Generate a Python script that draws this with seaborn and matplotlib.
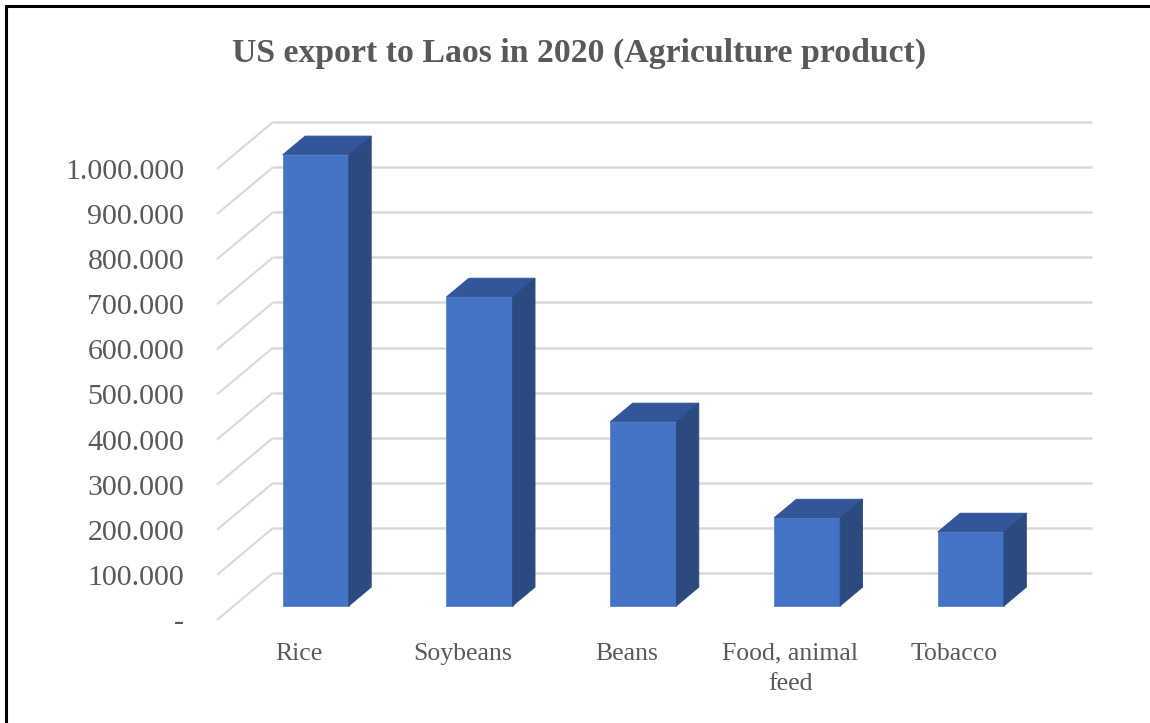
import matplotlib
matplotlib.use("Agg")
import matplotlib.pyplot as plt
from matplotlib.patches import Polygon
from matplotlib.lines import Line2D
from matplotlib.transforms import Affine2D
import seaborn as sns
import pandas as pd

# Data
categories = ["Rice", "Soybeans", "Beans", "Food, animal\nfeed", "Tobacco"]
export_values = [1_000_000, 685_000, 408_000, 195_000, 164_000]
tick_values = [0, 100_000, 200_000, 300_000, 400_000, 500_000,
               600_000, 700_000, 800_000, 900_000, 1_000_000]
tick_labels = ["-", "100.000", "200.000", "300.000", "400.000", "500.000",
               "600.000", "700.000", "800.000", "900.000", "1.000.000"]
title = "US export to Laos in 2020 (Agriculture product)"

# Styling
FRONT = "#4472C4"
TOP = "#31569A"
SIDE = "#2A4A80"
GRID = "#D9D9D9"
TEXT = "#595959"
SERIF = "Liberation Serif"

# Oblique depth of the floor, in category units (x) and value units (y)
DEPTH_X = 0.3425
DEPTH_Y = 104_000
BAR_FRONT, BAR_BACK = 0.3, 0.7
BAR_WIDTH = 0.404

sns.set_theme(style="white")
plt.rcParams["font.family"] = [SERIF, "DejaVu Serif"]

W, H = 1150, 723
fig = plt.figure(figsize=(W / 100, H / 100), dpi=100)
ax = fig.add_axes([217 / W, 103 / H, (1092 - 217) / W, 498 / H])

df = pd.DataFrame({"category": categories, "value": export_values})
sns.barplot(data=df, x="category", y="value", color=FRONT, saturation=1,
            width=BAR_WIDTH, errorbar=None, ax=ax, zorder=3,
            edgecolor="#5B83CC", linewidth=0.6)

ax.set_xlim(-0.5, len(categories) - 0.5 + DEPTH_X)
ax.set_ylim(0, tick_values[-1] + DEPTH_Y)

# Back wall gridlines and the oblique floor/side lines on the left
x_left = -0.5
x_right = len(categories) - 0.5
for v in tick_values:
    ax.plot([x_left, x_left + DEPTH_X], [v, v + DEPTH_Y], color=GRID,
            lw=1.5, zorder=1, clip_on=False, solid_capstyle="butt")
    ax.plot([x_left + DEPTH_X, x_right + DEPTH_X], [v + DEPTH_Y, v + DEPTH_Y],
            color=GRID, lw=1.8, zorder=1, clip_on=False, solid_capstyle="butt")

# Push each bar into the floor and give it a top and a side face
shift = Affine2D().translate(BAR_FRONT * DEPTH_X, BAR_FRONT * DEPTH_Y)
for patch in ax.patches[:len(categories)]:
    x0, w, h = patch.get_x(), patch.get_width(), patch.get_height()
    patch.set_transform(shift + ax.transData)
    fx, fy = BAR_FRONT * DEPTH_X, BAR_FRONT * DEPTH_Y
    bx, by = BAR_BACK * DEPTH_X, BAR_BACK * DEPTH_Y
    top = Polygon([(x0 + fx, h + fy), (x0 + w + fx, h + fy),
                   (x0 + w + bx, h + by), (x0 + bx, h + by)],
                  closed=True, facecolor=TOP, edgecolor=TOP, lw=0.6, zorder=3)
    side = Polygon([(x0 + w + fx, fy), (x0 + w + bx, by),
                    (x0 + w + bx, h + by), (x0 + w + fx, h + fy)],
                   closed=True, facecolor=SIDE, edgecolor=SIDE, lw=0.6, zorder=3)
    ax.add_patch(top)
    ax.add_patch(side)

ax.set_yticks(tick_values, tick_labels)
ax.set_xticks(range(len(categories)), categories)
ax.tick_params(axis="y", length=0, pad=23.5, labelsize=21.5, labelcolor=TEXT)
ax.tick_params(axis="x", length=0, pad=16.5, labelsize=18.5, labelcolor=TEXT)
for lbl in ax.get_xticklabels():
    lbl.set_linespacing(1.45)
ax.set_xlabel("")
ax.set_ylabel("")
sns.despine(ax=ax, left=True, bottom=True)
ax.grid(False)

fig.text(579 / W, 1 - 53 / H, title, ha="center", va="center",
         fontsize=24.3, fontweight="bold", color=TEXT, family=SERIF)

# Frame lines along the top and left edges
fig.add_artist(Line2D([6 / W, 1], [1 - 6 / H, 1 - 6 / H], color="black",
                      lw=2.2, transform=fig.transFigure))
fig.add_artist(Line2D([6 / W, 6 / W], [0, 1 - 6 / H], color="black",
                      lw=2.2, transform=fig.transFigure))

fig.savefig("out.png", dpi=100, facecolor="white")
